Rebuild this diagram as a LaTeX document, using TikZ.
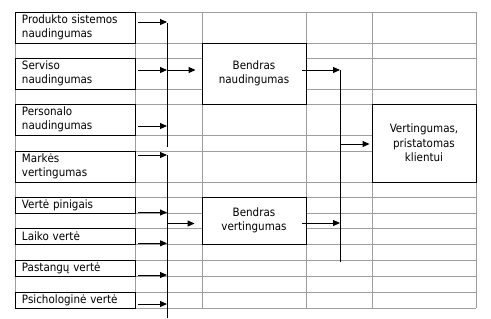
\documentclass[tikz,border=0pt]{standalone}
\usepackage{fontspec}
\setmainfont{DejaVu Sans Condensed}
\usetikzlibrary{arrows.meta}
\begin{document}
\begin{tikzpicture}[x=1bp,y=-1bp,
  gridline/.style={draw=black!38, line width=0.8bp},
  box/.style={draw=black, fill=white, line width=0.9bp, inner xsep=0pt, inner ysep=0pt,
    font=\fontsize{11.5bp}{14.5bp}\selectfont},
  lbox/.style={box, text width=106bp, align=left, minimum width=120bp},
  cbox/.style={box, align=center, minimum width=104bp},
  bus/.style={line width=1bp},
  arr/.style={line width=0.9bp, -{Triangle[length=7bp,width=6bp]}}]
\useasboundingbox (0,0) rectangle (491,318);
% grid
\foreach \x in {15,135,202,306,372,476} \draw[gridline] (\x,12) -- (\x,308);
\foreach \y in {12,43,58,89,104,135,151,182,197,213,228,244,260,276,292,308} \draw[gridline] (15,\y) -- (476,\y);
% left boxes
\node[lbox, minimum height=31bp] (p1) at (75,27.5) {Produkto sistemos\\naudingumas};
\node[lbox, minimum height=31bp] (p2) at (75,73.5) {Serviso\\naudingumas};
\node[lbox, minimum height=31bp] (p3) at (75,119.5) {Personalo\\naudingumas};
\node[lbox, minimum height=31bp] (p4) at (75,166.5) {Markės\\vertingumas};
\node[lbox, minimum height=16bp] (p5) at (75,205) {Vertė pinigais};
\node[lbox, minimum height=16bp] (p6) at (75,236) {Laiko vertė};
\node[lbox, minimum height=16bp] (p7) at (75,268) {Pastangų vertė};
\node[lbox, minimum height=16bp] (p8) at (75,300) {Psichologinė vertė};
% middle and right boxes
\node[cbox, minimum height=61bp] (bn) at (254,73.5) {Bendras\\naudingumas};
\node[cbox, minimum height=47bp] (bv) at (254,220.5) {Bendras\\vertingumas};
\node[cbox, minimum height=78bp] (vk) at (424,143) {Vertingumas,\\pristatomas\\klientui};
% buses
\coordinate (b1t) at (167,23);  \coordinate (b1b) at (167,147);
\coordinate (b2t) at (167,155); \coordinate (b2b) at (167,318);
\coordinate (b3t) at (340,70);  \coordinate (b3b) at (340,262);
\draw[bus] (b1t) -- (b1b);
\draw[bus] (b2t) -- (b2b);
\draw[bus] (b3t) -- (b3b);
% arrows into buses
\draw[arr] ([xshift=3bp,yshift=5.5bp]p1.east) -- ([yshift=5.5bp]p1.east -| b1t);
\draw[arr] ([xshift=3bp,yshift=3.5bp]p2.east) -- ([yshift=3.5bp]p2.east -| b1t);
\draw[arr] ([xshift=3bp,yshift=-6.5bp]p3.east) -- ([yshift=-6.5bp]p3.east -| b1t);
\draw[arr] ([xshift=3bp,yshift=11.5bp]p4.east) -- ([yshift=11.5bp]p4.east -| b2t);
\draw[arr] ([xshift=3bp,yshift=-7.5bp]p5.east) -- ([yshift=-7.5bp]p5.east -| b2t);
\draw[arr] ([xshift=3bp,yshift=-7.3bp]p6.east) -- ([yshift=-7.3bp]p6.east -| b2t);
\draw[arr] ([xshift=3bp,yshift=-7bp]p7.east) -- ([yshift=-7bp]p7.east -| b2t);
\draw[arr] ([xshift=3bp,yshift=-4bp]p8.east) -- ([yshift=-4bp]p8.east -| b2t);
% buses to boxes
\draw[arr] ([yshift=3.5bp]bn.west -| b1t) -- ([xshift=-6bp,yshift=3.5bp]bn.west);
\draw[arr] ([yshift=-3bp]bv.west -| b2t) -- ([xshift=-7bp,yshift=-3bp]bv.west);
\draw[arr] ([xshift=-4bp,yshift=3.5bp]bn.east) -- ([yshift=3.5bp]bn.east -| b3t);
\draw[arr] ([xshift=-4bp,yshift=-2.5bp]bv.east) -- ([yshift=-2.5bp]bv.east -| b3t);
\draw[arr] ([yshift=-1bp]vk.west -| b3t) -- ([xshift=-2bp,yshift=-1bp]vk.west);
\end{tikzpicture}
\end{document}
